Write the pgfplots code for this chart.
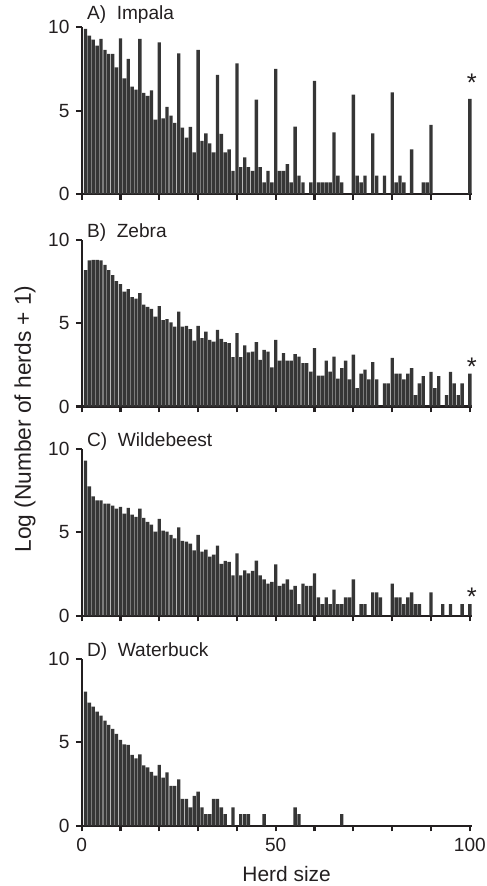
\documentclass[border=0pt]{standalone}
\usepackage{fontspec}
\setmainfont{Liberation Sans}
\usepackage{pgfplots}
\pgfplotsset{compat=1.18}
\definecolor{barfill}{HTML}{363636}
\definecolor{ink}{HTML}{231F20}

\pgfplotsset{herd/.style={
  scale only axis, width=214.8pt, height=91.7pt,
  anchor=south west,
  xmin=0, xmax=100.6, ymin=0, ymax=10,
  axis x line*=bottom, axis y line*=left,
  axis line style={ink, line width=1.2pt},
  xtick={0,10,...,100}, ytick={0,5,10},
  xticklabels={},
  tick align=outside, major tick length=3.2pt,
  tick style={ink, line width=1.2pt},
  ticklabel style={font=\fontsize{10.5}{12}\selectfont, text=ink},
  /pgf/number format/assume math mode=true,
  ybar, bar width=0.86,
  clip=false,
}}
\tikzset{
  ptitle/.style={anchor=base west, inner sep=0pt, xshift=2.8pt, yshift=1.5pt,
    font=\fontsize{10.5}{12}\selectfont, text=ink},
  star/.style={inner sep=0pt, yshift=-3pt, font=\fontsize{14}{14}\selectfont, text=ink},
  herdbar/.style={fill=barfill, draw=none},
}

\begin{document}
\begin{tikzpicture}
% A) Impala
\begin{axis}[herd, at={(0pt,0pt)}]
\addplot[herdbar] table {
x y
1 9.9
2 9.5
3 9.26
4 8.9
5 9.3
6 8.64
7 8.4
8 8.4
9 7.6
10 9.34
11 6.94
12 8.1
13 6.44
14 6.26
15 9.3
16 6.06
17 5.88
18 6.22
19 4.46
20 9.1
21 4.54
22 5.22
23 4.7
24 4.26
25 8.44
26 3.98
27 3.38
28 4.02
29 2.5
30 8.64
31 3.18
32 3.64
33 3.04
34 2.5
35 7.14
36 3.6
37 2.5
38 2.68
39 1.39
40 7.84
41 1.61
42 2.2
43 1.61
44 1.39
45 5.66
46 1.61
47 0.69
48 1.39
49 0.69
50 7.5
51 1.39
52 1.39
53 1.79
54 0.69
55 4.04
56 1.1
57 0.69
59 0.69
60 6.78
61 0.69
62 0.69
63 0.69
64 0.69
65 3.7
66 1.1
67 0.69
70 5.96
71 1.1
72 0.69
73 1.1
75 3.64
76 1.1
78 1.1
80 6.1
81 0.69
82 1.1
83 0.69
85 2.68
88 0.69
89 0.69
90 4.14
100 5.7
};
\node[ptitle, yshift=2.5pt] at (axis cs:0,10) {A)~~Impala};
\node[star] at (axis cs:100.5,6.98) {*};
\end{axis}

% B) Zebra
\begin{axis}[herd, at={(0pt,-116.9pt)}]
\addplot[herdbar] table {
x y
1 8.18
2 8.76
3 8.8
4 8.8
5 8.76
6 8.5
7 8.18
8 7.88
9 7.53
10 7.35
11 6.9
12 7.04
13 6.57
14 6.47
15 6.8
16 6.12
17 5.98
18 5.86
19 5.39
20 6.02
21 5.18
22 5.24
23 5.05
24 4.8
25 5.7
26 4.8
27 4.84
28 4.65
29 3.96
30 4.84
31 4.1
32 4.5
33 4.0
34 3.9
35 4.6
36 4.06
37 3.86
38 3.8
39 2.96
40 4.4
41 2.96
42 3.67
43 3.25
44 3.3
45 3.86
46 2.8
47 3.4
48 3.3
49 2.35
50 4.0
51 2.76
52 3.2
53 2.76
54 2.76
55 3.15
56 3.0
57 2.6
58 2.6
59 2.1
60 3.5
61 1.86
62 1.86
63 2.76
64 2.1
65 3.0
66 1.67
67 2.31
68 2.76
69 1.63
70 3.12
71 1.1
72 1.98
73 2.22
74 1.63
75 2.67
76 1.63
78 1.39
79 1.39
80 2.92
81 1.98
82 1.98
83 1.63
84 1.98
85 2.31
86 0.69
87 1.39
88 1.82
90 2.08
91 1.1
92 1.82
94 0.69
95 2.08
96 1.39
97 0.69
98 1.39
100 1.98
};
\node[ptitle] at (axis cs:0,10) {B)~~Zebra};
\node[star] at (axis cs:100.5,2.69) {*};
\end{axis}

% C) Wildebeest
\begin{axis}[herd, at={(0pt,-231.9pt)}]
\addplot[herdbar] table {
x y
1 9.3
2 7.76
3 7.16
4 6.92
5 6.92
6 6.72
7 6.72
8 6.6
9 6.42
10 6.52
11 6.12
12 6.46
13 6.06
14 5.92
15 6.42
16 5.86
17 5.62
18 5.46
19 5.04
20 5.8
21 5.1
22 5.04
23 4.84
24 4.64
25 5.3
26 4.48
27 4.44
28 4.32
29 3.92
30 4.84
31 3.84
32 3.96
33 3.54
34 3.66
35 4.2
36 3.1
37 3.28
38 3.22
39 2.42
40 3.74
41 2.42
42 2.72
43 2.54
44 2.68
45 3.3
46 2.42
47 2.18
48 1.92
49 2.02
50 3.08
51 1.79
52 1.92
53 2.18
54 1.56
55 1.79
56 0.69
57 1.92
58 1.79
59 1.79
60 2.54
61 1.1
62 0.69
63 1.1
64 0.69
65 1.56
66 0.69
67 0.69
68 1.1
69 1.1
70 2.18
72 0.69
73 0.69
75 1.39
76 1.39
77 1.1
80 1.92
81 1.1
82 1.1
83 0.69
84 1.1
85 1.39
86 0.69
87 0.69
90 1.39
93 0.69
95 0.69
98 0.69
100 0.69
};
\node[ptitle] at (axis cs:0,10) {C)~~Wildebeest};
\node[star] at (axis cs:100.5,1.48) {*};
\end{axis}

% D) Waterbuck
\begin{axis}[herd, at={(0pt,-347.4pt)}, xticklabels={0,,,,,50,,,,,100}]
\addplot[herdbar] table {
x y
1 8.04
2 7.38
3 7.14
4 6.84
5 6.6
6 6.3
7 6.04
8 5.8
9 5.5
10 5.14
11 4.88
12 4.84
13 4.24
14 4.04
15 4.28
16 3.62
17 3.5
18 3.22
19 3.0
20 3.64
21 2.88
22 3.2
23 2.38
24 2.38
25 2.78
26 1.61
27 1.61
28 1.1
29 1.79
30 2.04
31 1.1
32 0.69
33 0.69
34 1.61
35 1.61
36 1.1
37 0.69
39 1.1
41 0.69
42 0.69
43 0.69
47 0.69
55 1.1
56 0.69
67 0.69
};
\node[ptitle] at (axis cs:0,10) {D)~~Waterbuck};
\end{axis}

\node[rotate=90, font=\fontsize{12.5}{14}\selectfont, text=ink] at (-31.2pt,-123.75pt) {Log (Number of herds + 1)};
\node[anchor=base, inner sep=0pt, font=\fontsize{11.5}{13}\selectfont, text=ink] at (112.75pt,-378.2pt) {Herd size};

\pgfresetboundingbox
\path[use as bounding box] (-44.9pt,106.7pt) rectangle (222.9pt,-380.6pt);
\end{tikzpicture}
\end{document}
